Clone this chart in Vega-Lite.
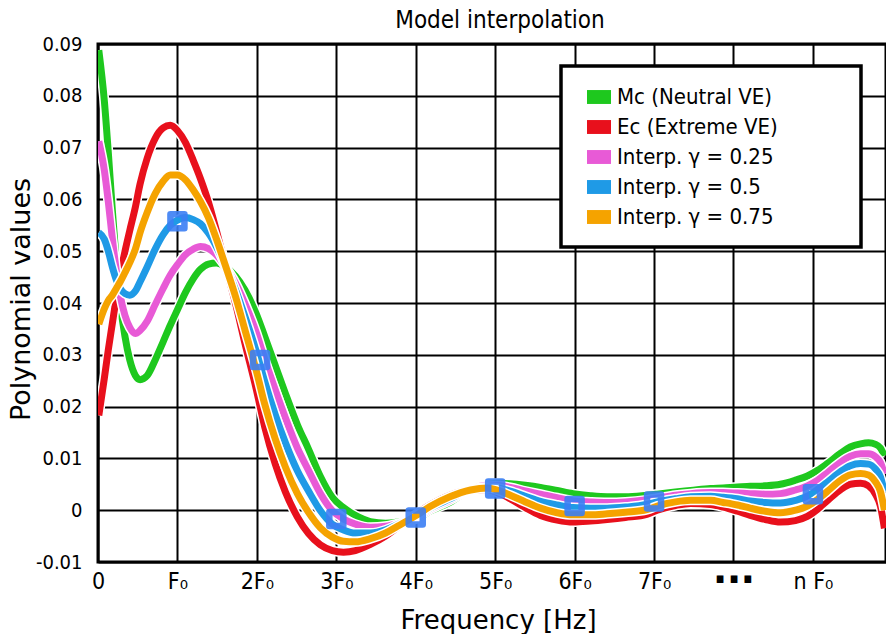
{
  "$schema": "https://vega.github.io/schema/vega-lite/v6.json",
  "width": 788,
  "height": 518,
  "autosize": {"type": "none"},
  "padding": {"left": 98, "top": 44, "right": 0, "bottom": 72},
  "background": "white",
  "title": {"text": "Model interpolation", "fontSize": 24, "font": "DejaVu Sans Condensed", "fontWeight": "normal", "color": "black", "offset": 1, "dx": 8, "anchor": "middle"},
  "config": {
    "view": {"stroke": "black", "strokeWidth": 3},
    "axis": {
      "domain": false, "ticks": false, "grid": true, "gridColor": "black", "gridWidth": 2, "gridOpacity": 1,
      "labelFont": "DejaVu Sans Condensed", "labelFontSize": 20, "labelColor": "black",
      "titleFont": "DejaVu Sans", "titleFontSize": 26, "titleFontWeight": "normal", "titleColor": "black"
    },
    "legend": {"fillColor": "white", "strokeColor": "black", "strokeWidth": 3.5, "padding": 19}
  },
  "datasets": {
    "curves": [
      {"f":0.01,"mc":0.0888,"ec":0.0183,"g25":0.0712,"g50":0.0536,"g75":0.0359},
      {"f":0.08,"mc":0.079,"ec":0.0255,"g25":0.0656,"g50":0.0523,"g75":0.0389},
      {"f":0.13,"mc":0.069,"ec":0.031,"g25":0.0595,"g50":0.05,"g75":0.0405},
      {"f":0.18,"mc":0.058,"ec":0.036,"g25":0.0525,"g50":0.047,"g75":0.0415},
      {"f":0.23,"mc":0.048,"ec":0.041,"g25":0.0463,"g50":0.0445,"g75":0.0428},
      {"f":0.28,"mc":0.040,"ec":0.0455,"g25":0.0414,"g50":0.0428,"g75":0.0441},
      {"f":0.34,"mc":0.0335,"ec":0.05,"g25":0.0376,"g50":0.0418,"g75":0.0459},
      {"f":0.40,"mc":0.029,"ec":0.054,"g25":0.0353,"g50":0.0415,"g75":0.0478},
      {"f":0.47,"mc":0.026,"ec":0.0585,"g25":0.0341,"g50":0.0423,"g75":0.0504},
      {"f":0.53,"mc":0.0252,"ec":0.063,"g25":0.0347,"g50":0.0441,"g75":0.0536},
      {"f":0.62,"mc":0.026,"ec":0.068,"g25":0.0365,"g50":0.047,"g75":0.0575},
      {"f":0.72,"mc":0.029,"ec":0.0718,"g25":0.0397,"g50":0.0504,"g75":0.0611},
      {"f":0.82,"mc":0.0325,"ec":0.0738,"g25":0.0428,"g50":0.0532,"g75":0.0635},
      {"f":0.91,"mc":0.0357,"ec":0.0743,"g25":0.0454,"g50":0.055,"g75":0.0647},
      {"f":1.00,"mc":0.0387,"ec":0.0733,"g25":0.0474,"g50":0.056,"g75":0.0647},
      {"f":1.10,"mc":0.042,"ec":0.071,"g25":0.0493,"g50":0.0565,"g75":0.0638},
      {"f":1.20,"mc":0.0447,"ec":0.0675,"g25":0.0504,"g50":0.0561,"g75":0.0618},
      {"f":1.29,"mc":0.0465,"ec":0.064,"g25":0.0509,"g50":0.0553,"g75":0.0596},
      {"f":1.39,"mc":0.0475,"ec":0.0595,"g25":0.0505,"g50":0.0535,"g75":0.0565},
      {"f":1.49,"mc":0.0477,"ec":0.054,"g25":0.0493,"g50":0.0509,"g75":0.0524},
      {"f":1.60,"mc":0.047,"ec":0.0475,"g25":0.0471,"g50":0.0473,"g75":0.0474},
      {"f":1.73,"mc":0.0452,"ec":0.040,"g25":0.0439,"g50":0.0426,"g75":0.0413},
      {"f":1.85,"mc":0.0425,"ec":0.0322,"g25":0.0399,"g50":0.0374,"g75":0.0348},
      {"f":1.99,"mc":0.038,"ec":0.0235,"g25":0.0344,"g50":0.0308,"g75":0.0271},
      {"f":2.10,"mc":0.0335,"ec":0.016,"g25":0.0291,"g50":0.0248,"g75":0.0204},
      {"f":2.23,"mc":0.028,"ec":0.009,"g25":0.0233,"g50":0.0185,"g75":0.0138},
      {"f":2.36,"mc":0.0225,"ec":0.0035,"g25":0.0178,"g50":0.013,"g75":0.0083},
      {"f":2.51,"mc":0.0165,"ec":-0.0013,"g25":0.012,"g50":0.0076,"g75":0.0032},
      {"f":2.65,"mc":0.0118,"ec":-0.0045,"g25":0.0077,"g50":0.0037,"g75":-0.0004},
      {"f":2.80,"mc":0.0065,"ec":-0.0067,"g25":0.0032,"g50":-0.0001,"g75":-0.0034},
      {"f":2.95,"mc":0.0025,"ec":-0.0078,"g25":-0.0001,"g50":-0.0027,"g75":-0.0052},
      {"f":3.09,"mc":0.0005,"ec":-0.0081,"g25":-0.0017,"g50":-0.0038,"g75":-0.006},
      {"f":3.24,"mc":-0.001,"ec":-0.0078,"g25":-0.0027,"g50":-0.0044,"g75":-0.0061},
      {"f":3.43,"mc":-0.0022,"ec":-0.0066,"g25":-0.0033,"g50":-0.0044,"g75":-0.0055},
      {"f":3.62,"mc":-0.0025,"ec":-0.005,"g25":-0.0031,"g50":-0.0038,"g75":-0.0044},
      {"f":3.77,"mc":-0.0023,"ec":-0.0033,"g25":-0.0026,"g50":-0.0028,"g75":-0.0031},
      {"f":4.02,"mc":-0.0016,"ec":-0.0006,"g25":-0.0014,"g50":-0.0011,"g75":-0.0009},
      {"f":4.18,"mc":-0.0002,"ec":0.001,"g25":0.0001,"g50":0.0004,"g75":0.0007},
      {"f":4.43,"mc":0.0015,"ec":0.0029,"g25":0.0019,"g50":0.0022,"g75":0.0026},
      {"f":4.69,"mc":0.004,"ec":0.0039,"g25":0.004,"g50":0.004,"g75":0.0039},
      {"f":4.90,"mc":0.005,"ec":0.004,"g25":0.0048,"g50":0.0045,"g75":0.0043},
      {"f":5.06,"mc":0.0052,"ec":0.0032,"g25":0.0047,"g50":0.0042,"g75":0.0037},
      {"f":5.19,"mc":0.0051,"ec":0.0022,"g25":0.0044,"g50":0.0037,"g75":0.0029},
      {"f":5.38,"mc":0.0048,"ec":0.0005,"g25":0.0037,"g50":0.0027,"g75":0.0016},
      {"f":5.57,"mc":0.0044,"ec":-0.001,"g25":0.0031,"g50":0.0017,"g75":0.0004},
      {"f":5.78,"mc":0.0038,"ec":-0.0019,"g25":0.0024,"g50":0.001,"g75":-0.0005},
      {"f":5.98,"mc":0.0032,"ec":-0.0023,"g25":0.0018,"g50":0.0005,"g75":-0.0009},
      {"f":6.20,"mc":0.0028,"ec":-0.0021,"g25":0.0016,"g50":0.0004,"g75":-0.0009},
      {"f":6.41,"mc":0.0026,"ec":-0.0018,"g25":0.0015,"g50":0.0004,"g75":-0.0007},
      {"f":6.64,"mc":0.0026,"ec":-0.0014,"g25":0.0016,"g50":0.0006,"g75":-0.0004},
      {"f":6.91,"mc":0.0029,"ec":-0.0008,"g25":0.002,"g50":0.0011,"g75":0.0001},
      {"f":7.04,"mc":0.0031,"ec":0.0,"g25":0.0023,"g50":0.0016,"g75":0.0008},
      {"f":7.27,"mc":0.0035,"ec":0.0009,"g25":0.0029,"g50":0.0022,"g75":0.0016},
      {"f":7.46,"mc":0.0038,"ec":0.0013,"g25":0.0032,"g50":0.0026,"g75":0.0019},
      {"f":7.71,"mc":0.0042,"ec":0.0011,"g25":0.0034,"g50":0.0027,"g75":0.0019},
      {"f":7.87,"mc":0.0043,"ec":0.0006,"g25":0.0034,"g50":0.0025,"g75":0.0015},
      {"f":8.05,"mc":0.0045,"ec":-0.0002,"g25":0.0033,"g50":0.0022,"g75":0.001},
      {"f":8.21,"mc":0.0046,"ec":-0.001,"g25":0.0032,"g50":0.0018,"g75":0.0004},
      {"f":8.40,"mc":0.0047,"ec":-0.0018,"g25":0.0031,"g50":0.0015,"g75":-0.0002},
      {"f":8.59,"mc":0.005,"ec":-0.0023,"g25":0.0032,"g50":0.0014,"g75":-0.0005},
      {"f":8.78,"mc":0.0058,"ec":-0.002,"g25":0.0039,"g50":0.0019,"g75":0.0},
      {"f":8.93,"mc":0.0066,"ec":-0.0012,"g25":0.0047,"g50":0.0027,"g75":0.0008},
      {"f":9.06,"mc":0.0077,"ec":0.0002,"g25":0.0058,"g50":0.004,"g75":0.0021},
      {"f":9.18,"mc":0.009,"ec":0.0018,"g25":0.0072,"g50":0.0054,"g75":0.0036},
      {"f":9.35,"mc":0.011,"ec":0.004,"g25":0.0093,"g50":0.0075,"g75":0.0058},
      {"f":9.47,"mc":0.0122,"ec":0.005,"g25":0.0104,"g50":0.0086,"g75":0.0068},
      {"f":9.60,"mc":0.0128,"ec":0.0052,"g25":0.0109,"g50":0.009,"g75":0.0071},
      {"f":9.70,"mc":0.013,"ec":0.0047,"g25":0.0109,"g50":0.0089,"g75":0.0068},
      {"f":9.79,"mc":0.0127,"ec":0.003,"g25":0.0103,"g50":0.0079,"g75":0.0054},
      {"f":9.85,"mc":0.012,"ec":0.0008,"g25":0.0092,"g50":0.0064,"g75":0.0036},
      {"f":9.90,"mc":0.0105,"ec":-0.0035,"g25":0.007,"g50":0.0035,"g75":0.0}
    ],
    "marks": [
      {"f":1.0,"value":0.0558},
      {"f":2.04,"value":0.029},
      {"f":3.0,"value":-0.0017},
      {"f":4.0,"value":-0.0014},
      {"f":5.0,"value":0.0042},
      {"f":6.0,"value":0.0008},
      {"f":7.0,"value":0.0017},
      {"f":9.0,"value":0.0031}
    ]
  },
  "data": {"name": "curves"},
  "encoding": {
    "x": {
      "field": "f", "type": "quantitative",
      "scale": {"domain": [0, 9.92], "nice": false, "zero": false},
      "axis": {
        "values": [0,1,2,3,4,5,6,7,8,9],
        "labelExpr": "['0','F₀','2F₀','3F₀','4F₀','5F₀','6F₀','7F₀','▪ ▪ ▪','n F₀'][datum.value]",
        "labelPadding": 8, "labelFlush": false,
        "labelFontSize": {"condition": {"test": "datum.value == 8", "value": 15}, "value": 23},
        "labelFontWeight": {"condition": {"test": "datum.value == 8", "value": "bold"}, "value": "normal"},
        "title": "Frequency [Hz]", "titlePadding": 14, "titleX": 400
      }
    },
    "y": {
      "field": "value", "type": "quantitative",
      "scale": {"domain": [-0.01, 0.09], "nice": false, "zero": false},
      "axis": {
        "values": [-0.01,0,0.01,0.02,0.03,0.04,0.05,0.06,0.07,0.08,0.09],
        "labelExpr": "datum.value < 0 ? '-0.01' : datum.value == 0 ? '0' : format(datum.value, '.2f')",
        "labelPadding": 16, "labelFlush": false,
        "title": "Polynomial values", "titlePadding": 0, "titleFontSize": 27, "titleY": 255
      }
    },
    "color": {
      "field": "key", "type": "nominal",
      "scale": {"domain": ["mc","ec","g25","g50","g75"], "range": ["#1ec81e","#e8101c","#e85ad6","#1f9ae6","#f5a300"]},
      "legend": {
        "orient": "none", "legendX": 463, "legendY": 22,
        "title": "\u00a0", "titleOrient": "right", "titlePadding": 64, "titleFontSize": 4,
        "symbolType": "M-1,-0.58H1V0.58H-1Z", "symbolSize": 576, "symbolStrokeWidth": 0, "symbolOffset": 7,
        "labelOffset": 6, "labelFont": "DejaVu Sans Condensed", "labelFontSize": 22, "labelColor": "black",
        "labelLimit": 400, "rowPadding": 7,
        "labelExpr": "{'mc':'Mc (Neutral VE)','ec':'Ec (Extreme VE)','g25':'Interp. γ = 0.25','g50':'Interp. γ = 0.5','g75':'Interp. γ = 0.75'}[datum.value]",
        "encode": {"symbols": {"update": {"fill": {"scale": "color", "field": "value"}, "stroke": {"value": "transparent"}, "opacity": {"value": 1}}}}
      }
    }
  },
  "layer": [
    {"transform": [{"fold": ["mc"]}], "mark": {"type": "line", "strokeWidth": 10, "interpolate": "monotone", "clip": true}, "encoding": {"color": {"value": "white"}}},
    {"transform": [{"fold": ["mc"]}], "mark": {"type": "line", "strokeWidth": 7, "interpolate": "monotone", "clip": true}},
    {"transform": [{"fold": ["ec"]}], "mark": {"type": "line", "strokeWidth": 10, "interpolate": "monotone", "clip": true}, "encoding": {"color": {"value": "white"}}},
    {"transform": [{"fold": ["ec"]}], "mark": {"type": "line", "strokeWidth": 7, "interpolate": "monotone", "clip": true}},
    {"transform": [{"fold": ["g25"]}], "mark": {"type": "line", "strokeWidth": 10, "interpolate": "monotone", "clip": true}, "encoding": {"color": {"value": "white"}}},
    {"transform": [{"fold": ["g25"]}], "mark": {"type": "line", "strokeWidth": 7, "interpolate": "monotone", "clip": true}},
    {"transform": [{"fold": ["g50"]}], "mark": {"type": "line", "strokeWidth": 10, "interpolate": "monotone", "clip": true}, "encoding": {"color": {"value": "white"}}},
    {"transform": [{"fold": ["g50"]}], "mark": {"type": "line", "strokeWidth": 7, "interpolate": "monotone", "clip": true}},
    {"transform": [{"fold": ["g75"]}], "mark": {"type": "line", "strokeWidth": 10, "interpolate": "monotone", "clip": true}, "encoding": {"color": {"value": "white"}}},
    {"transform": [{"fold": ["g75"]}], "mark": {"type": "line", "strokeWidth": 7, "interpolate": "monotone", "clip": true}},
    {
      "data": {"name": "marks"},
      "mark": {"type": "point", "shape": "square", "filled": false, "size": 196, "strokeWidth": 6.5, "strokeJoin": "round", "opacity": 0.9},
      "encoding": {"color": {"value": "#3b7ff4"}}
    }
  ]
}
